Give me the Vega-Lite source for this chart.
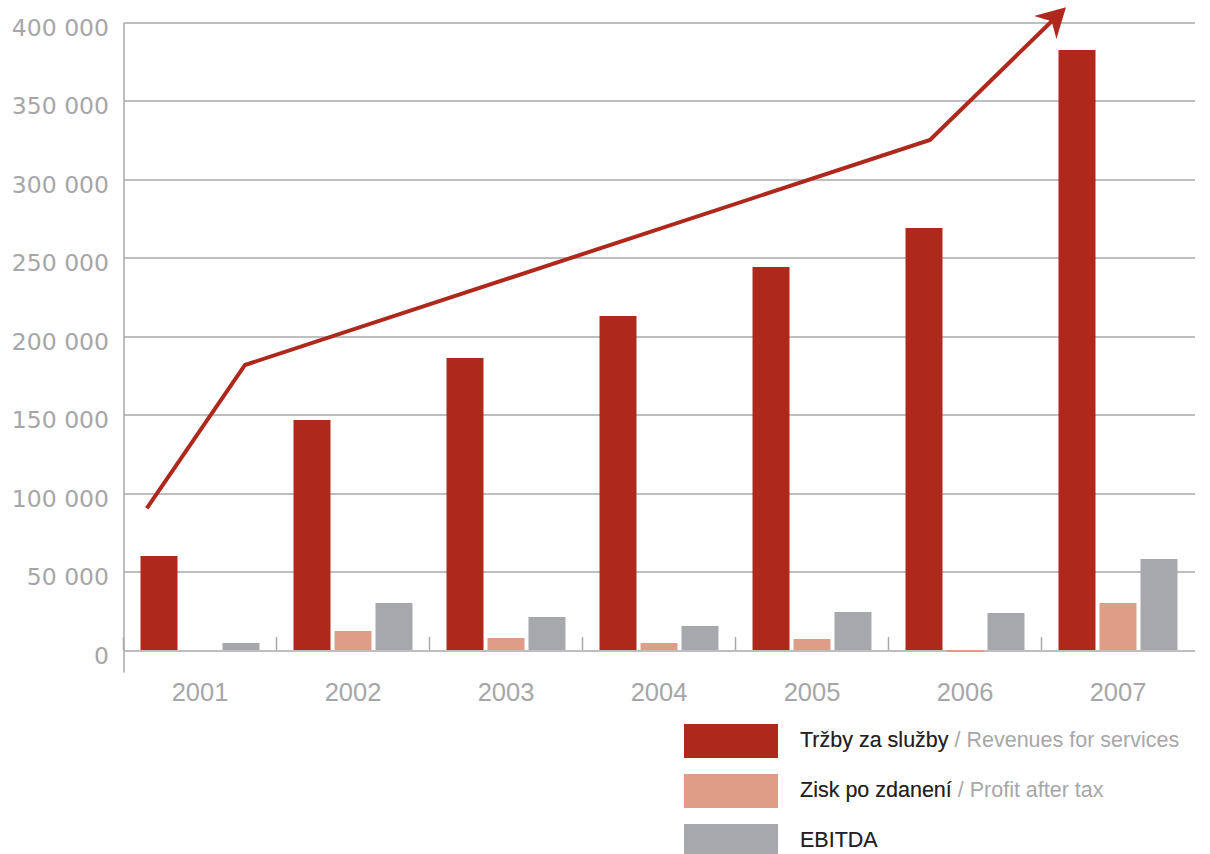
{
  "$schema": "https://vega.github.io/schema/vega-lite/v6.json",
  "width": 1082,
  "height": 649.5,
  "autosize": {"type": "none"},
  "padding": {"left": 123.5, "top": 22.5, "right": 4.5, "bottom": 182},
  "background": "white",
  "config": {"view": {"stroke": null}},
  "datasets": {
    "bars": [
      {"year": "2001", "series": "Tržby za služby / Revenues for services", "cz": "Tržby za služby", "value": 60000},
      {"year": "2001", "series": "Zisk po zdanení / Profit after tax", "cz": "Zisk po zdanení", "value": 0},
      {"year": "2001", "series": "EBITDA", "cz": "EBITDA", "value": 4500},
      {"year": "2002", "series": "Tržby za služby / Revenues for services", "cz": "Tržby za služby", "value": 146600},
      {"year": "2002", "series": "Zisk po zdanení / Profit after tax", "cz": "Zisk po zdanení", "value": 12100},
      {"year": "2002", "series": "EBITDA", "cz": "EBITDA", "value": 30000},
      {"year": "2003", "series": "Tržby za služby / Revenues for services", "cz": "Tržby za služby", "value": 186100},
      {"year": "2003", "series": "Zisk po zdanení / Profit after tax", "cz": "Zisk po zdanení", "value": 7600},
      {"year": "2003", "series": "EBITDA", "cz": "EBITDA", "value": 21000},
      {"year": "2004", "series": "Tržby za služby / Revenues for services", "cz": "Tržby za služby", "value": 212900},
      {"year": "2004", "series": "Zisk po zdanení / Profit after tax", "cz": "Zisk po zdanení", "value": 4500},
      {"year": "2004", "series": "EBITDA", "cz": "EBITDA", "value": 15300},
      {"year": "2005", "series": "Tržby za služby / Revenues for services", "cz": "Tržby za služby", "value": 244100},
      {"year": "2005", "series": "Zisk po zdanení / Profit after tax", "cz": "Zisk po zdanení", "value": 7000},
      {"year": "2005", "series": "EBITDA", "cz": "EBITDA", "value": 24200},
      {"year": "2006", "series": "Tržby za služby / Revenues for services", "cz": "Tržby za služby", "value": 269000},
      {"year": "2006", "series": "Zisk po zdanení / Profit after tax", "cz": "Zisk po zdanení", "value": -1300},
      {"year": "2006", "series": "EBITDA", "cz": "EBITDA", "value": 23600},
      {"year": "2007", "series": "Tržby za služby / Revenues for services", "cz": "Tržby za služby", "value": 382500},
      {"year": "2007", "series": "Zisk po zdanení / Profit after tax", "cz": "Zisk po zdanení", "value": 30000},
      {"year": "2007", "series": "EBITDA", "cz": "EBITDA", "value": 58000}
    ],
    "years": [
      {"year": "2001"}, {"year": "2002"}, {"year": "2003"}, {"year": "2004"},
      {"year": "2005"}, {"year": "2006"}, {"year": "2007"}
    ],
    "arrowLine": [
      {"t": 2000.652, "v": 90300},
      {"t": 2001.294, "v": 181700},
      {"t": 2005.771, "v": 325100},
      {"t": 2006.575, "v": 401600}
    ],
    "arrowTip": [
      {"t": 2006.66, "v": 409700}
    ]
  },
  "resolve": {"scale": {"x": "independent"}},
  "layer": [
    {
      "layer": [
        {
          "data": {"name": "bars"},
          "mark": {"type": "bar"},
          "encoding": {
            "x": {
              "field": "year", "type": "nominal",
              "scale": {"range": [0, 1071], "paddingInner": 0, "paddingOuter": 0},
              "axis": {
                "title": null, "domain": false, "ticks": false, "labelAngle": 0,
                "labelFont": "Liberation Sans", "labelFontSize": 25.5, "labelColor": "#A6A6A9",
                "labelBaseline": "middle", "labelPadding": 20
              }
            },
            "xOffset": {
              "field": "series", "type": "nominal",
              "scale": {
                "domain": ["Tržby za služby / Revenues for services", "Zisk po zdanení / Profit after tax", "EBITDA"],
                "paddingInner": 0.0976, "paddingOuter": 0.415
              }
            },
            "y": {
              "field": "value", "type": "quantitative",
              "scale": {"domain": [-14000, 400000], "nice": false, "zero": false},
              "axis": {
                "title": null,
                "values": [0, 50000, 100000, 150000, 200000, 250000, 300000, 350000, 400000],
                "labelExpr": "replace(format(datum.value, ','), /,/g, ' ')",
                "grid": true, "gridColor": "#A9A9AD", "gridWidth": 1.5,
                "domain": true, "domainColor": "#A9A9AD", "domainWidth": 1.5,
                "ticks": false,
                "labelFont": "DejaVu Sans", "labelFontSize": 23.5, "labelColor": "#A6A6A9",
                "labelPadding": 15, "labelOffset": 6
              }
            },
            "fill": {
              "field": "series", "type": "nominal",
              "scale": {
                "domain": ["Tržby za služby / Revenues for services", "Zisk po zdanení / Profit after tax", "EBITDA"],
                "range": ["#AF281C", "#DF9D88", "#A7A8AC"]
              },
              "legend": {
                "orient": "none", "legendX": 582.5, "legendY": 693.5, "title": null,
                "symbolType": "M-1.88,-0.68H1.88V0.68H-1.88Z", "symbolSize": 2500,
                "symbolStrokeWidth": 0, "rowPadding": 8,
                "labelFont": "Liberation Sans", "labelFontSize": 21.5, "labelColor": "#A7A7AA",
                "labelLimit": 0, "labelOffset": 44
              }
            },
            "opacity": {
              "field": "cz", "type": "nominal",
              "scale": {
                "domain": ["Tržby za služby", "Zisk po zdanení", "EBITDA"],
                "range": [1, 1, 1]
              },
              "legend": {
                "orient": "none", "legendX": 582.5, "legendY": 693.5, "title": null,
                "symbolType": "M-1.88,-0.68H1.88V0.68H-1.88Z", "symbolSize": 2500,
                "symbolStrokeWidth": 0, "symbolFillColor": "transparent", "symbolStrokeColor": "transparent",
                "rowPadding": 8,
                "labelFont": "Liberation Sans", "labelFontSize": 21.5, "labelColor": "#231F20",
                "labelLimit": 0, "labelOffset": 44
              }
            }
          }
        },
        {
          "data": {"name": "years"},
          "mark": {"type": "rule", "color": "#A9A9AD", "strokeWidth": 1.5},
          "encoding": {
            "x": {"field": "year", "type": "nominal", "bandPosition": 0},
            "y": {"datum": 0},
            "y2": {"datum": 8300}
          }
        }
      ]
    },
    {
      "layer": [
        {
          "data": {"name": "arrowLine"},
          "mark": {"type": "line", "color": "#AF281C", "strokeWidth": 4},
          "encoding": {
            "x": {"field": "t", "type": "quantitative", "scale": {"domain": [2000.5, 2007.5], "range": [0, 1071], "zero": false, "nice": false}, "axis": null},
            "y": {"field": "v", "type": "quantitative"}
          }
        },
        {
          "data": {"name": "arrowTip"},
          "mark": {"type": "point", "filled": true, "color": "#AF281C", "opacity": 1, "shape": "M0,0L0.8,1.45L0,1.0L-0.8,1.45Z", "size": 1600, "angle": 45.7, "strokeWidth": 0},
          "encoding": {
            "x": {"field": "t", "type": "quantitative"},
            "y": {"field": "v", "type": "quantitative"}
          }
        }
      ]
    }
  ]
}
